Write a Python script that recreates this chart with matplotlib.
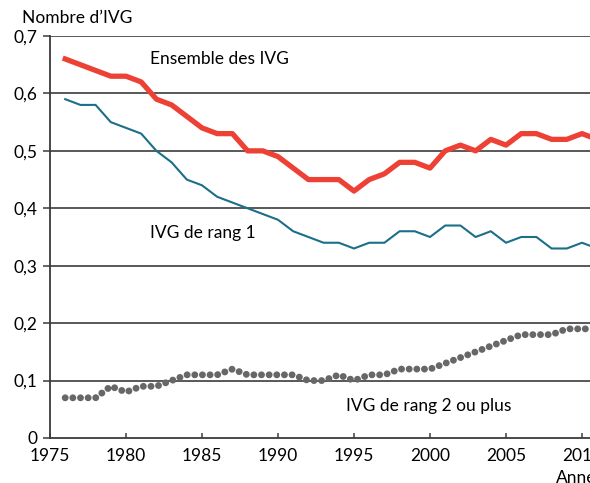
import matplotlib
matplotlib.use("Agg")
import matplotlib.pyplot as plt
from matplotlib.ticker import FuncFormatter

annees = list(range(1976, 2012))

ensemble = [0.66, 0.65, 0.64, 0.63, 0.63, 0.62, 0.59, 0.58, 0.56, 0.54,
            0.53, 0.53, 0.50, 0.50, 0.49, 0.47, 0.45, 0.45, 0.45, 0.43,
            0.45, 0.46, 0.48, 0.48, 0.47, 0.50, 0.51, 0.50, 0.52, 0.51,
            0.53, 0.53, 0.52, 0.52, 0.53, 0.52]

rang1 = [0.59, 0.58, 0.58, 0.55, 0.54, 0.53, 0.50, 0.48, 0.45, 0.44,
         0.42, 0.41, 0.40, 0.39, 0.38, 0.36, 0.35, 0.34, 0.34, 0.33,
         0.34, 0.34, 0.36, 0.36, 0.35, 0.37, 0.37, 0.35, 0.36, 0.34,
         0.35, 0.35, 0.33, 0.33, 0.34, 0.33]

rang2 = [0.07, 0.07, 0.07, 0.09, 0.08, 0.09, 0.09, 0.10, 0.11, 0.11,
         0.11, 0.12, 0.11, 0.11, 0.11, 0.11, 0.10, 0.10, 0.11, 0.10,
         0.11, 0.11, 0.12, 0.12, 0.12, 0.13, 0.14, 0.15, 0.16, 0.17,
         0.18, 0.18, 0.18, 0.19, 0.19, 0.19]

plt.rcParams['font.family'] = ['Lato', 'DejaVu Sans']
FS = 12.5

fig = plt.figure(figsize=(5.9, 4.83), dpi=100)
ax = fig.add_axes([50/590, 45/483, 540/590, 402/483])

# grille horizontale
for v in [0.1, 0.2, 0.3, 0.4, 0.5, 0.6, 0.7]:
    ax.axhline(v, color='#2b2b2b', lw=1.1, zorder=1)

ax.plot(annees, rang2, color='#676767', lw=5.0, linestyle=(0, (0.001, 1.1)),
        dash_capstyle='round', zorder=3)
ax.plot(annees, rang1, color='#1b6f88', lw=1.5, zorder=3)
ax.plot(annees, ensemble, color='#ee4136', lw=3.8, zorder=4)

ax.set_xlim(1975, 1975 + 540/15.2)
ax.set_ylim(0, 0.7)
ax.set_xticks(range(1975, 2011, 5))
ax.set_yticks([0, 0.1, 0.2, 0.3, 0.4, 0.5, 0.6, 0.7])
ax.yaxis.set_major_formatter(FuncFormatter(lambda v, p: '0' if v == 0 else f"{v:.1f}".replace('.', ',')))

for s in ['top', 'right']:
    ax.spines[s].set_visible(False)
for s in ['left', 'bottom']:
    ax.spines[s].set_color('#3a3a3a')
    ax.spines[s].set_linewidth(1.3)

ax.tick_params(axis='y', direction='out', length=5, width=1.1, color='#3a3a3a',
               labelsize=FS, pad=4)
ax.tick_params(axis='x', direction='in', length=3.5, width=1.1, color='#3a3a3a',
               labelsize=FS, pad=7)

ax.text(1981.6, 0.66, "Ensemble des IVG", fontsize=FS, va='center', ha='left')
ax.text(1981.6, 0.357, "IVG de rang 1", fontsize=FS, va='center', ha='left')
ax.text(1994.5, 0.055, "IVG de rang 2 ou plus", fontsize=FS, va='center', ha='left')

fig.text(22/590, 1 - 18/483, "Nombre d\u2019IVG", fontsize=FS, va='center', ha='left')
fig.text(556/590, 1 - 478/483, "Ann\u00e9e", fontsize=FS, va='center', ha='left')

fig.savefig("out.png", dpi=100)
